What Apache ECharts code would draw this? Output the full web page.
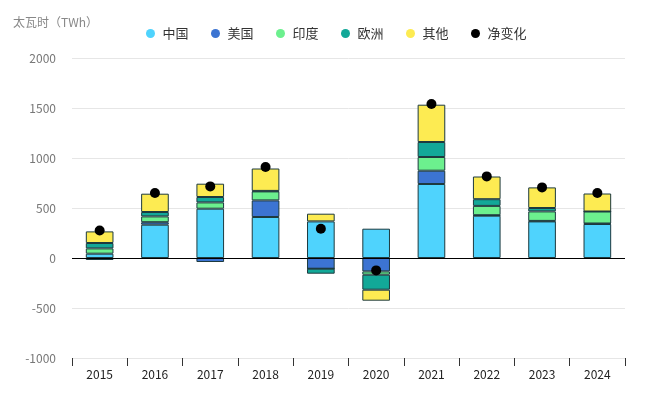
<!DOCTYPE html>
<html>
<head>
<meta charset="utf-8">
<script src="https://cdn.jsdelivr.net/npm/echarts@6/dist/echarts.min.js"></script>
<style>
  html, body { margin: 0; padding: 0; background: #fff; }
  #chart { width: 650px; height: 397px; }
</style>
</head>
<body>
<div id="chart"></div>
<script>
// 年度新增太阳能发电量（TWh）
const years = ["2015", "2016", "2017", "2018", "2019", "2020", "2021", "2022", "2023", "2024"];
const china = [43, 333, 493, 410, 366, 293, 740, 423, 366, 340];
const us = [-20, 25, -40, 166, -107, -134, 133, 5, 5, 5];
const india = [53, 58, 63, 90, 0, -33, 137, 93, 95, 120];
const europe = [54, 44, 54, 5, -50, -150, 150, 67, 34, 0];
const other = [116, 183, 133, 224, 77, -110, 373, 227, 206, 180];
const netChange = [275, 650, 716, 910, 293, -124, 1540, 816, 706, 650];

const font = '"Noto Sans CJK SC", "Noto Sans", sans-serif';
const chart = echarts.init(document.getElementById("chart"));

function barSeries(name, data, color) {
  return {
    name,
    type: "bar",
    stack: "total",
    barWidth: "50%",
    data,
    itemStyle: {
      color,
      borderColor: "#1d3a3f",
      borderWidth: 1,
    },
  };
}

const chinaSeries = barSeries("中国", china, "#4fd3fd");
chinaSeries.markLine = {
  silent: true,
  symbol: "none",
  label: { show: false },
  lineStyle: { color: "#000", type: "solid", width: 1.2 },
  data: [{ yAxis: 0 }],
};

const option = {
  animation: false,
  textStyle: { fontFamily: font },
  title: {
    text: "太瓦时（TWh）",
    left: 8,
    top: 11,
    textStyle: { fontSize: 12, fontWeight: "normal", color: "#888", fontFamily: font },
  },
  legend: {
    left: 141,
    top: 22,
    itemWidth: 14,
    itemHeight: 9,
    itemGap: 22.5,
    icon: "circle",
    itemStyle: { borderWidth: 0 },
    textStyle: { fontSize: 13, color: "#333", fontFamily: font },
    data: ["中国", "美国", "印度", "欧洲", "其他", "净变化"],
  },
  grid: { left: 72, right: 25, top: 58, bottom: 39 },
  xAxis: {
    type: "category",
    data: years,
    axisLine: { show: false, onZero: false },
    axisTick: { show: true, length: 8, lineStyle: { color: "#333" } },
    axisLabel: { color: "#222", fontSize: 12, margin: 10, fontFamily: font },
  },
  yAxis: {
    type: "value",
    min: -1000,
    max: 2000,
    interval: 500,
    axisLine: { show: false },
    axisTick: { show: false },
    axisLabel: {
      color: "#777",
      fontSize: 12,
      margin: 16,
      fontFamily: font,
      formatter: (v) => String(v),
    },
    splitLine: { lineStyle: { color: "#e6e6e6" } },
  },
  series: [
    chinaSeries,
    barSeries("美国", us, "#3c74d2"),
    barSeries("印度", india, "#6cf08e"),
    barSeries("欧洲", europe, "#12a898"),
    barSeries("其他", other, "#fdeb52"),
    {
      name: "净变化",
      type: "scatter",
      symbolSize: 10,
      data: netChange,
      itemStyle: { color: "#000", opacity: 1 },
      z: 5,
    },
  ],
};

chart.setOption(option);
</script>
</body>
</html>
